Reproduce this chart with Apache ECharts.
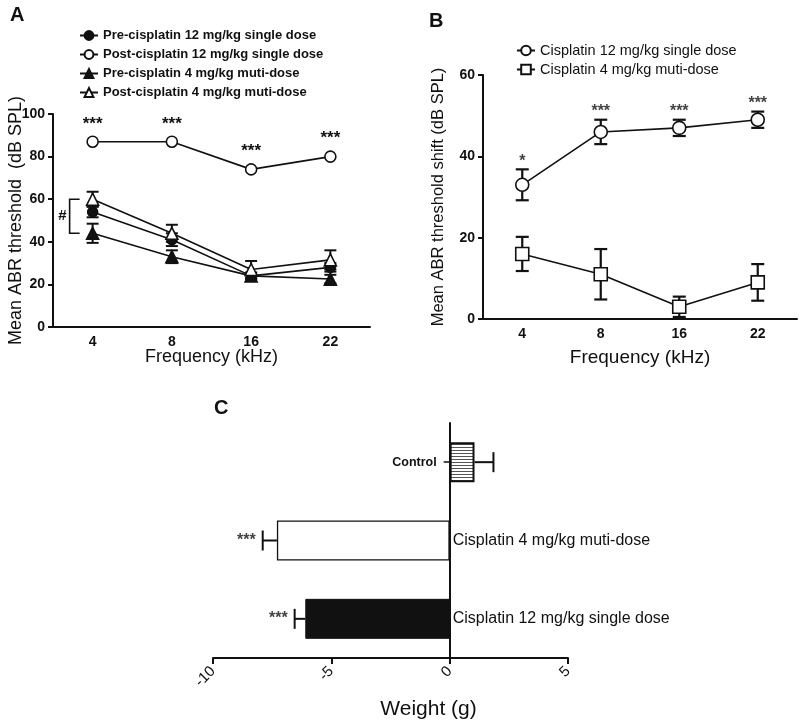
<!DOCTYPE html>
<html><head><meta charset="utf-8">
<script src="https://cdn.jsdelivr.net/npm/echarts@6/dist/echarts.min.js"></script>
<style>html,body{margin:0;padding:0;background:#fff}#c{width:800px;height:720px}</style>
</head><body><div id="c"></div>
<script>
// ---------- Data ----------
const freqs = ['4', '8', '16', '22'];
// Panel A: mean ABR threshold (dB SPL)
const pre12 = [54, 41, 24, 28];
const pre12Err = [2.5, 3, 1.5, 2];
const post12 = [87, 87, 74, 80];
const post12Sig = ['***', '***', '***', '***'];
const pre4 = [44, 33, 24, 22.5];
const pre4Err = [4.5, 3, 1.5, 2];
const post4 = [60, 44, 27, 31.5];
const post4Err = [3.5, 4, 4, 4.5];
// Panel B: threshold shift (dB SPL)
const shift12 = [33, 46, 47, 49];
const shift12Err = [3.8, 3, 2, 2];
const shift12Sig = ['*', '***', '***', '***'];
const shift4 = [16, 11, 3, 9];
const shift4Err = [4.2, 6.2, 2.5, 4.5];
// Panel C: weight change (g)
const groups = ['Cisplatin 12 mg/kg single dose', 'Cisplatin 4 mg/kg muti-dose', 'Control'];
const weights = [-6.1, -7.3, 1.05];
const weightErr = [0.45, 0.6, 0.8];
const weightSig = ['***', '***', ''];
const weightTicks = [-10, -5, 0, 5];

// ---------- Helpers ----------
const FONT = "'Liberation Sans', Arial, sans-serif";
const BLACK = '#111';

function hatch() {
  const cv = document.createElement('canvas');
  cv.width = 6; cv.height = 3;
  const g = cv.getContext('2d');
  g.fillStyle = '#fff'; g.fillRect(0, 0, 6, 3);
  g.fillStyle = '#555'; g.fillRect(0, 0, 6, 1);
  return cv;
}

function vErr(name, xi, yi, means, errs, capW, lw) {
  return {
    name: name, type: 'custom', xAxisIndex: xi, yAxisIndex: yi, z: 3,
    silent: true,
    data: means.map((m, i) => [i, m - errs[i], m + errs[i]]),
    renderItem: function (params, api) {
      const lo = api.coord([api.value(0), api.value(1)]);
      const hi = api.coord([api.value(0), api.value(2)]);
      const st = { stroke: BLACK, lineWidth: lw };
      return { type: 'group', children: [
        { type: 'line', shape: { x1: lo[0], y1: lo[1], x2: hi[0], y2: hi[1] }, style: st },
        { type: 'line', shape: { x1: lo[0] - capW / 2, y1: lo[1], x2: lo[0] + capW / 2, y2: lo[1] }, style: st },
        { type: 'line', shape: { x1: hi[0] - capW / 2, y1: hi[1], x2: hi[0] + capW / 2, y2: hi[1] }, style: st }
      ] };
    }
  };
}

function lineSeries(name, xi, yi, data, symbol, filled, size) {
  return {
    name: name, type: 'line', xAxisIndex: xi, yAxisIndex: yi, data: data, z: filled ? 4 : 5,
    symbol: symbol, symbolSize: size, showSymbol: true,
    lineStyle: { color: BLACK, width: 1.6 },
    itemStyle: { color: filled ? BLACK : '#fff', borderColor: BLACK, borderWidth: 1.6 },
    emphasis: { disabled: true }, animation: false
  };
}

const tickLabel = { color: BLACK, fontFamily: FONT, fontSize: 14, fontWeight: 'bold' };
const axisLineStyle = { color: BLACK, width: 2 };
const titleStyle = { fontSize: 20, fontWeight: 'bold', color: BLACK, fontFamily: FONT };

const chart = echarts.init(document.getElementById('c'));
const option = {
  backgroundColor: '#fff',
  animation: false,
  textStyle: { fontFamily: FONT },
  title: [
    { text: 'A', left: 10, top: 5, padding: 0, textStyle: titleStyle },
    { text: 'B', left: 429, top: 11, padding: 0, textStyle: titleStyle },
    { text: 'C', left: 214, top: 398, padding: 0, textStyle: titleStyle }
  ],
  legend: [
    { orient: 'vertical', left: 74, top: 24, itemWidth: 18, itemHeight: 11, itemGap: 6,
      data: ['Pre-cisplatin 12 mg/kg single dose', 'Post-cisplatin 12 mg/kg single dose',
             'Pre-cisplatin 4 mg/kg muti-dose', 'Post-cisplatin 4 mg/kg muti-dose'],
      textStyle: { fontSize: 13, fontWeight: 'bold', color: BLACK, fontFamily: FONT },
      selectedMode: false },
    { orient: 'vertical', left: 511, top: 38, itemWidth: 18, itemHeight: 12, itemGap: 4,
      data: ['Cisplatin 12 mg/kg single dose', 'Cisplatin 4 mg/kg muti-dose'],
      textStyle: { fontSize: 14.5, color: BLACK, fontFamily: FONT },
      selectedMode: false }
  ],
  grid: [
    { left: 53, top: 114, width: 317, height: 213, outerBoundsMode: 'none', containLabel: false },
    { left: 483, top: 75, width: 314, height: 244, outerBoundsMode: 'none', containLabel: false },
    { left: 213, top: 423, width: 355, height: 235, outerBoundsMode: 'none', containLabel: false }
  ],
  xAxis: [
    { gridIndex: 0, type: 'category', data: freqs, boundaryGap: true,
      axisLine: { lineStyle: axisLineStyle }, axisTick: { alignWithLabel: true, length: 5, lineStyle: { color: BLACK, width: 2 } },
      axisLabel: tickLabel, name: 'Frequency (kHz)', nameLocation: 'middle', nameGap: 21, nameMoveOverlap: false,
      nameTextStyle: { fontSize: 18, color: BLACK, fontFamily: FONT } },
    { gridIndex: 1, type: 'category', data: freqs, boundaryGap: true,
      axisLine: { lineStyle: axisLineStyle }, axisTick: { alignWithLabel: true, length: 5, lineStyle: { color: BLACK, width: 2 } },
      axisLabel: tickLabel, name: 'Frequency (kHz)', nameLocation: 'middle', nameGap: 29, nameMoveOverlap: false,
      nameTextStyle: { fontSize: 19, color: BLACK, fontFamily: FONT } },
    { gridIndex: 2, type: 'value', min: weightTicks[0], max: weightTicks[weightTicks.length - 1], interval: 5,
      axisLine: { show: true, onZero: false, lineStyle: axisLineStyle },
      axisTick: { show: true, length: 6, lineStyle: { color: BLACK, width: 2 } },
      splitLine: { show: false },
      axisLabel: { color: BLACK, fontFamily: FONT, fontSize: 15, rotate: 45, margin: 11 },
      name: 'Weight (g)', nameLocation: 'middle', nameGap: 41, nameMoveOverlap: false,
      nameTextStyle: { fontSize: 21, color: BLACK, fontFamily: FONT, padding: [0, 0, 0, 76] } }
  ],
  yAxis: [
    { gridIndex: 0, type: 'value', min: 0, max: 100, interval: 20,
      axisLine: { show: true, lineStyle: axisLineStyle }, axisTick: { show: true, length: 5, lineStyle: { color: BLACK, width: 2 } },
      splitLine: { show: false }, axisLabel: tickLabel,
      name: 'Mean ABR threshold  (dB SPL)', nameLocation: 'middle', nameGap: 28, nameMoveOverlap: false,
      nameTextStyle: { fontSize: 18, color: BLACK, fontFamily: FONT } },
    { gridIndex: 1, type: 'value', min: 0, max: 60, interval: 20,
      axisLine: { show: true, lineStyle: axisLineStyle }, axisTick: { show: true, length: 5, lineStyle: { color: BLACK, width: 2 } },
      splitLine: { show: false }, axisLabel: tickLabel,
      name: 'Mean ABR threshold shift (dB SPL)', nameLocation: 'middle', nameGap: 36, nameMoveOverlap: false,
      nameTextStyle: { fontSize: 16.5, color: BLACK, fontFamily: FONT } },
    { gridIndex: 2, type: 'category', data: groups,
      axisLine: { show: true, onZero: true, lineStyle: axisLineStyle },
      axisTick: { show: true, alignWithLabel: true, length: 6, lineStyle: { color: BLACK, width: 1.5 } },
      axisLabel: { show: false } }
  ],
  series: [
    // Panel A
    vErr('errPre12', 0, 0, pre12, pre12Err, 12, 2),
    vErr('errPre4', 0, 0, pre4, pre4Err, 12, 2),
    vErr('errPost4', 0, 0, post4, post4Err, 12, 2),
    lineSeries('Pre-cisplatin 12 mg/kg single dose', 0, 0, pre12, 'circle', true, 10),
    Object.assign(lineSeries('Post-cisplatin 12 mg/kg single dose', 0, 0, post12, 'circle', false, 11), {
      label: { show: true, position: 'top', distance: 3, formatter: p => post12Sig[p.dataIndex],
               fontSize: 17, fontWeight: 'bold', color: BLACK, fontFamily: FONT }
    }),
    lineSeries('Pre-cisplatin 4 mg/kg muti-dose', 0, 0, pre4, 'triangle', true, 12),
    lineSeries('Post-cisplatin 4 mg/kg muti-dose', 0, 0, post4, 'triangle', false, 12),
    // "#" bracket between the two 4 mg/kg baselines at 4 kHz
    { type: 'custom', xAxisIndex: 0, yAxisIndex: 0, silent: true, z: 6,
      data: [[0, post4[0], pre4[0]]],
      renderItem: function (params, api) {
        const a = api.coord([api.value(0), api.value(1)]);
        const b = api.coord([api.value(0), api.value(2)]);
        const x = a[0] - 23, w = 10;
        const st = { stroke: BLACK, lineWidth: 1.6, fill: null };
        return { type: 'group', children: [
          { type: 'polyline', shape: { points: [[x + w, a[1]], [x, a[1]], [x, b[1]], [x + w, b[1]]] }, style: st },
          { type: 'text', style: { text: '#', x: x - 3, y: (a[1] + b[1]) / 2, align: 'right', verticalAlign: 'middle',
              fontSize: 15, fontWeight: 'bold', fill: BLACK, fontFamily: FONT } }
        ] };
      } },
    // Panel B
    vErr('errShift12', 1, 1, shift12, shift12Err, 13, 2.2),
    vErr('errShift4', 1, 1, shift4, shift4Err, 13, 2.2),
    lineSeries('Cisplatin 12 mg/kg single dose', 1, 1, shift12, 'circle', false, 13),
    lineSeries('Cisplatin 4 mg/kg muti-dose', 1, 1, shift4, 'rect', false, 13),
    { type: 'scatter', xAxisIndex: 1, yAxisIndex: 1, symbolSize: 0, silent: true,
      data: shift12.map((m, i) => [i, m + shift12Err[i]]),
      label: { show: true, position: 'top', distance: 0, formatter: p => shift12Sig[p.dataIndex],
               fontSize: 16, fontWeight: 'bold', color: BLACK, fontFamily: FONT } },
    // Panel C
    { type: 'bar', xAxisIndex: 2, yAxisIndex: 2, barWidth: '51%', z: 3,
      data: weights.map((v, i) => ({
        value: v,
        itemStyle: i === 2 ? { color: { image: hatch(), repeat: 'repeat' }, borderColor: BLACK, borderWidth: 2 }
                 : i === 1 ? { color: '#fff', borderColor: BLACK, borderWidth: 1.3 }
                 : { color: BLACK, borderColor: BLACK, borderWidth: 1 },
        label: i === 2 ? { position: 'left', distance: 13, fontSize: 12.5, fontWeight: 'bold' }
                       : { position: 'right', distance: 3, fontSize: 16 }
      })),
      label: { show: true, formatter: p => groups[p.dataIndex], color: BLACK, fontFamily: FONT } },
    { type: 'custom', xAxisIndex: 2, yAxisIndex: 2, silent: true, z: 4,
      data: weights.map((v, i) => [v, v + Math.sign(v) * weightErr[i], i]),
      renderItem: function (params, api) {
        const a = api.coord([api.value(0), api.value(2)]);
        const b = api.coord([api.value(1), api.value(2)]);
        const st = { stroke: BLACK, lineWidth: 2 };
        return { type: 'group', children: [
          { type: 'line', shape: { x1: a[0], y1: a[1], x2: b[0], y2: b[1] }, style: st },
          { type: 'line', shape: { x1: b[0], y1: b[1] - 10, x2: b[0], y2: b[1] + 10 }, style: st }
        ] };
      } },
    { type: 'scatter', xAxisIndex: 2, yAxisIndex: 2, symbolSize: 0, silent: true,
      data: weights.map((v, i) => [v + Math.sign(v) * weightErr[i], i]),
      label: { show: true, position: 'left', distance: 7, formatter: p => weightSig[p.dataIndex],
               fontSize: 16, fontWeight: 'bold', color: BLACK, fontFamily: FONT } }
  ]
};
chart.setOption(option);
</script>
</body></html>
